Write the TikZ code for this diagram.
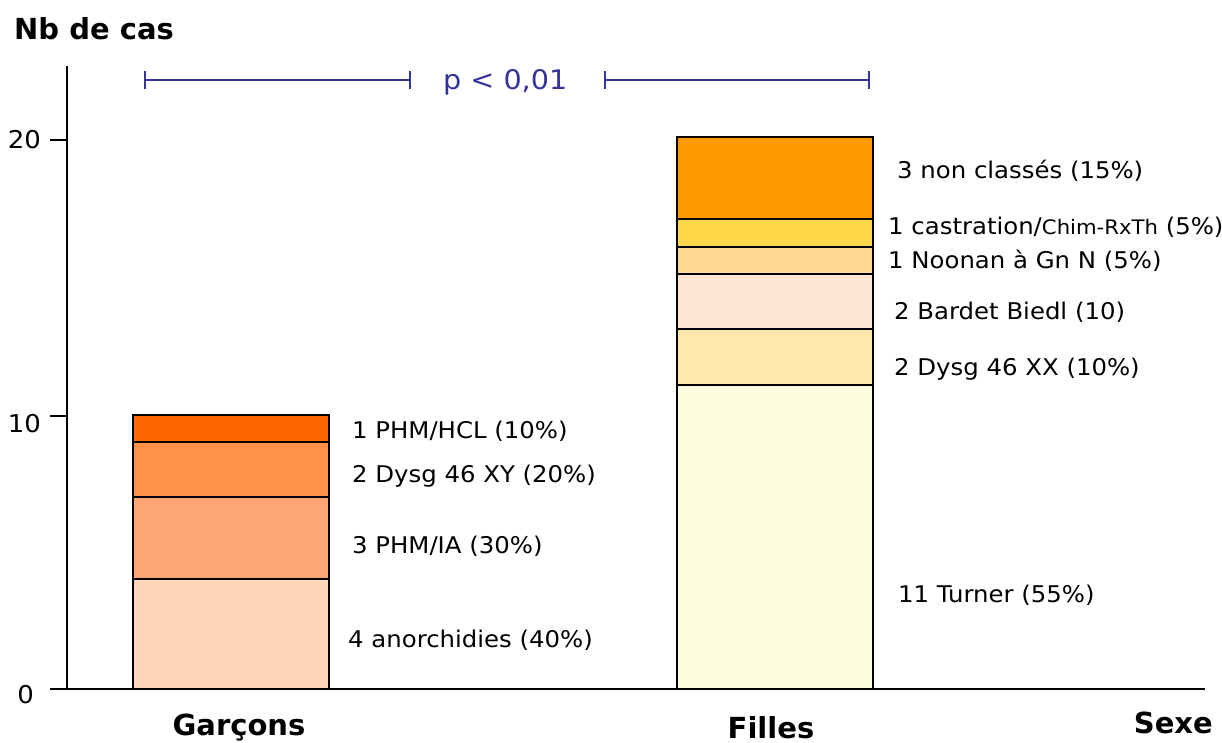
\documentclass[tikz,border=0pt]{standalone}
\usepackage{fontspec}
\setmainfont{DejaVu Sans}
\newfontfamily\lblfont[FakeStretch=1.06]{DejaVu Sans}
% bar segment fills, boys (bottom to top)
\definecolor{gA}{HTML}{FFD6BC}
\definecolor{gB}{HTML}{FFA875}
\definecolor{gC}{HTML}{FF914A}
\definecolor{gD}{HTML}{FF6600}
% bar segment fills, girls (bottom to top)
\definecolor{fA}{HTML}{FFFDE0}
\definecolor{fB}{HTML}{FFE9AA}
\definecolor{fC}{HTML}{FFE6D2}
\definecolor{fD}{HTML}{FFD993}
\definecolor{fE}{HTML}{FFD94A}
\definecolor{fF}{HTML}{FF9900}
\definecolor{pblue}{HTML}{333399}
\begin{document}
\begin{tikzpicture}[x=1pt,y=-1pt,
  seg/.style={draw=black, line width=2.2},
  axis/.style={draw=black, line width=2.2},
  brk/.style={draw=pblue, line width=2},
  lbl/.style={anchor=base west, inner sep=0, font=\lblfont\fontsize{23}{27}\selectfont},
  ticklbl/.style={anchor=base east, inner sep=0, font=\lblfont\fontsize{24.5}{28}\selectfont},
  ttl/.style={inner sep=0, font=\bfseries\fontsize{29}{33}\selectfont}]
\useasboundingbox (0,0) rectangle (1222,743);

% axes
\draw[axis] (67,66) -- (67,689);
\draw[axis] (50,689) -- (1205,689);
\foreach \y in {140,416,689} \draw[axis] (50,\y) -- (67,\y);
\node[ticklbl] (t20) at (41,149) {20};
\node[ticklbl] (t10) at (41,432) {10};
\node[ticklbl] (t0) at (34,703) {0};

% axis titles
\node[ttl, anchor=base west] (ytitle) at (14,40) {Nb de cas};
\node[ttl, anchor=base] (garcons) at (239,735) {Garçons};
\node[ttl, anchor=base] (filles) at (771,738) {Filles};
\node[ttl, anchor=base east] (sexe) at (1213,733) {Sexe};

% stacked bar: boys
\foreach \lo/\hi/\c in {689/579/gA, 579/497/gB, 497/442/gC, 442/415/gD}
  \draw[seg, fill=\c] (133,\lo) rectangle (329,\hi);
% stacked bar: girls
\foreach \lo/\hi/\c in {689/385/fA, 385/329/fB, 329/274/fC, 274/247/fD, 247/219/fE, 219/137/fF}
  \draw[seg, fill=\c] (677,\lo) rectangle (873,\hi);

% segment labels, boys
\node[lbl] (g4) at (352,438) {1 PHM/HCL (10\%)};
\node[lbl] (g3) at (352,482) {2 Dysg 46 XY (20\%)};
\node[lbl] (g2) at (352,553) {3 PHM/IA (30\%)};
\node[lbl] (g1) at (348,647) {4 anorchidies (40\%)};

% segment labels, girls
\node[lbl] (f6) at (897,179) {3 non classés (15\%)};
\node[lbl] (f5) at (888,235) {1 castration/{\fontsize{20}{23}\selectfont Chim-RxTh} (5\%)};
\node[lbl] (f4) at (888,268) {1 Noonan à Gn N (5\%)};
\node[lbl] (f3) at (894,319) {2 Bardet Biedl (10)};
\node[lbl] (f2) at (894,375) {2 Dysg 46 XX (10\%)};
\node[lbl] (f1) at (898,602) {11 Turner (55\%)};

% significance bracket
\node[inner sep=0, anchor=base west, text=pblue,
      font=\lblfont\fontsize{27}{31}\selectfont] (pval) at (443,90) {p < 0,01};
\coordinate (bl1) at (145,80);
\coordinate (bl2) at (410,80);
\coordinate (br1) at (605,80);
\coordinate (br2) at (869,80);
\draw[brk] (bl1) -- (bl2);
\draw[brk] (br1) -- (br2);
\foreach \p in {bl1,bl2,br1,br2}
  \draw[brk] ([yshift=-9pt]\p) -- ([yshift=9pt]\p);
\end{tikzpicture}
\end{document}
